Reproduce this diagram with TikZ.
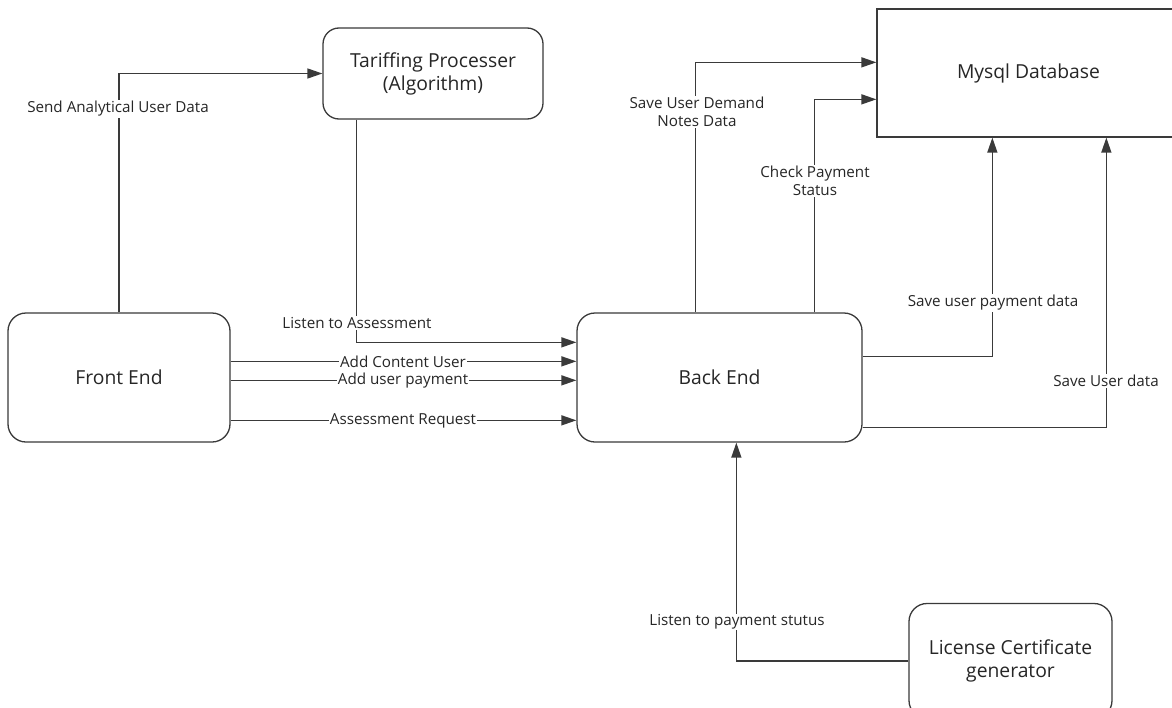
\documentclass[tikz,border=0pt]{standalone}
\usepackage{fontspec}
\setmainfont{Open Sans}
\usetikzlibrary{arrows.meta,calc}
\definecolor{edge}{HTML}{3A3A3A}
\definecolor{ink}{HTML}{262626}
\begin{document}
\begin{tikzpicture}[x=1pt,y=-1pt,
  box/.style={draw=edge, line width=1.3pt, rounded corners=16pt, fill=white,
    align=center, text=ink, inner sep=0pt, font=\fontsize{19.3}{23}\selectfont},
  sqbox/.style={draw=edge, line width=1.3pt, fill=white,
    align=center, text=ink, inner sep=0pt, font=\fontsize{19.3}{23}\selectfont},
  flow/.style={draw=edge, line width=1.4pt, -{Triangle[length=15pt,width=10pt]}},
  lab/.style={fill=white, inner sep=1pt, text=ink, align=center,
    font=\fontsize{15.2}{18}\selectfont}]
\useasboundingbox (0,0) rectangle (1172,707);
\fill[white] (0,0) rectangle (1172,707);
\clip (0,0) rectangle (1172,707);

% components
\node[box, minimum width=220pt, minimum height=91pt] (tp) at (433,73.5)
  {Tariffing Processer\\(Algorithm)};
\node[sqbox, minimum width=303pt, minimum height=128pt] (db) at (1028.5,73)
  {Mysql Database};
\node[box, rounded corners=18pt, minimum width=222pt, minimum height=129pt] (fe) at (119,377.5)
  {Front End};
\node[box, rounded corners=18pt, minimum width=285pt, minimum height=129pt] (be) at (719.5,377.5)
  {Back End};
\node[box, rounded corners=18pt, minimum width=203pt, minimum height=115pt] (lc) at (1010.5,661)
  {License Certificate\\generator};

% data flows
\draw[flow] (fe.north) |- (tp.west);
\draw[flow] ($(tp.south west)+(34,0)$) |- ($(be.north west)+(0,30)$);
\draw[flow] ($(fe.north east)+(0,49)$) -- ($(be.north west)+(0,49)$);
\draw[flow] ($(fe.north east)+(0,68)$) -- ($(be.north west)+(0,68)$);
\draw[flow] ($(fe.north east)+(0,108)$) -- ($(be.north west)+(0,108)$);
\draw[flow] ($(be.north west)+(119,0)$) |- ($(db.north west)+(0,54)$);
\draw[flow] ($(be.north west)+(238,0)$) |- ($(db.north west)+(0,91)$);
\draw[flow] ($(be.north east)+(0,44)$) -| ($(db.south west)+(116,0)$);
\draw[flow] ($(be.north east)+(0,115)$) -| ($(db.south west)+(230,0)$);
\draw[flow] (lc.west) -| ($(be.south west)+(160,0)$);

% flow labels
\node[lab] (l1) at (118,109) {Send Analytical User Data};
\node[lab] (l2) at (357,323) {Listen to Assessment};
\node[lab] (l3) at (403,362) {Add Content User};
\node[lab] (l4) at (403,381) {Add user payment};
\node[lab] (l5) at (403,421) {Assessment Request};
\node[lab] (l6) at (697,112) {Save User Demand\\Notes Data};
\node[lab] (l7) at (815,181) {Check Payment\\Status};
\node[lab] (l8) at (993,303) {Save user payment data};
\node[lab] (l9) at (1106,381) {Save User data};
\node[lab] (l10) at (737,622) {Listen to payment stutus};
\end{tikzpicture}
\end{document}
